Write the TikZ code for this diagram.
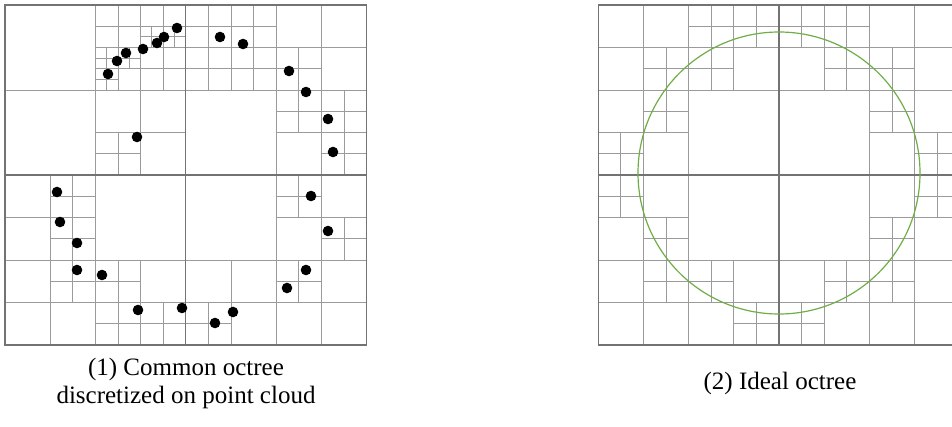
\documentclass[tikz,border=0pt]{standalone}
\usepackage{fontspec}
\setmainfont{Liberation Serif}
\usetikzlibrary{positioning}
\definecolor{cellgray}{RGB}{155,155,155}
\definecolor{cutgray}{RGB}{115,115,115}
\definecolor{shapegreen}{RGB}{112,173,71}
\tikzset{
  cell/.style={draw=cellgray,line width=1pt},
  main cut/.style={draw=cutgray,line width=1.3pt},
  point/.style={fill=black},
  surface/.style={draw=shapegreen,line width=1.2pt},
  caption/.style={font=\fontsize{25}{28}\selectfont,align=center},
  panel/.style={shift={#1},x=22.6pt,y=-21.25pt},
}
% one quadtree split: a cross through the cell at column c, row r, size s
\newcommand{\splitcells}[1]{%
  \foreach \c/\r/\s in {#1}
    \draw[cell] (\c+\s/2,\r) -- ++(0,\s) (\c,\r+\s/2) -- ++(\s,0);}
\begin{document}
\begin{tikzpicture}[x=1pt,y=-1pt]
  \useasboundingbox (0,0) rectangle (952,426);
  \clip (0,0) rectangle (952,426);

  % (1) octree on the point cloud
  \begin{scope}[panel={(5,5)}]
    \splitcells{0/0/8,8/0/8,0/8/8,8/8/8,
      4/0/4,4/0/2,6/0/2,6/1/1,7/1/1,4/2/2,4/2/1,5/2/1,4/3/1,6/2/2,4/4/4,4/6/2,
      8/0/4,8/0/2,10/0/2,8/2/2,10/2/2,12/0/4,12/2/2,12/4/4,12/4/2,14/4/2,14/6/2,
      0/8/4,2/8/2,2/10/2,0/12/4,2/12/2,4/12/4,4/12/2,4/14/2,6/14/2,
      12/8/4,12/8/2,14/10/2,8/12/4,8/14/2,12/12/4,12/12/2}
    \draw[main cut] (0,0) rectangle (16,16) (8,0) -- (8,16) (0,8) -- (16,8);
  \end{scope}
  \foreach \px/\py in {177/28,164/37,157/43,143/49,126/53,117/61,108/74,137/137,
    220/37,243/44,289/71,306/92,328/119,333/152,57/192,60/222,77/243,77/270,
    102/275,138/310,182/308,215/323,233/312,311/196,328/231,306/270,287/288}
    \fill[point] (\px,\py) circle[radius=5.3];

  % (2) ideal octree
  \begin{scope}[panel={(598.3,5)}]
    \splitcells{0/0/8,8/0/8,0/8/8,8/8/8,
      0/0/4,2/2/2,4/0/4,4/0/2,6/0/2,4/2/2,0/4/4,2/4/2,0/6/2,
      8/0/4,8/0/2,10/0/2,10/2/2,12/0/4,12/2/2,12/4/4,12/4/2,14/6/2,
      0/8/4,0/8/2,2/10/2,0/12/4,2/12/2,4/12/4,4/12/2,6/14/2,
      12/8/4,14/8/2,12/10/2,8/12/4,10/12/2,8/14/2,12/12/4,12/12/2}
    \draw[main cut] (0,0) rectangle (16,16) (8,0) -- (8,16) (0,8) -- (16,8);
  \end{scope}
  \draw[surface] (779,173) circle[radius=141];

  \node[caption] (capcommon) at (186,383) {(1) Common octree\\discretized on point cloud};
  \node[caption] (capideal) at (780,383) {(2) Ideal octree};
\end{tikzpicture}
\end{document}
